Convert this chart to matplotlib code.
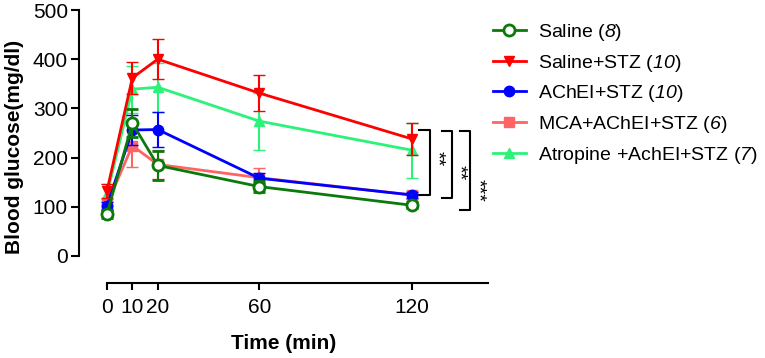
import matplotlib.pyplot as plt
from matplotlib.lines import Line2D

plt.rcParams['font.family'] = ['Liberation Sans', 'DejaVu Sans']
plt.rcParams['mathtext.fontset'] = 'custom'
plt.rcParams['mathtext.rm'] = 'Liberation Sans'
# digits inside \mathit fall back to roman, so use the sf slot for italic numbers
plt.rcParams['mathtext.sf'] = 'Liberation Sans:style=italic'

time = [0, 10, 20, 60, 120]

saline = [85, 270, 184, 141, 103]
saline_err = [8, 29, 30, 12, 6]
saline_stz = [132, 362, 400, 331, 238]
saline_stz_err = [15, 32, 41, 36, 32]
achei_stz = [102, 256, 257, 158, 124]
achei_stz_err = [8, 30, 36, 10, 6]
mca_achei_stz = [105, 224, 186, 159, 124]
mca_achei_stz_err = [10, 43, 30, 20, 8]
atropine_achei_stz = [125, 339, 343, 274, 215]
atropine_achei_stz_err = [22, 48, 50, 58, 56]

labels = ['Saline ($\\mathsf{8}$)', 'Saline+STZ ($\\mathsf{10}$)', 'AChEI+STZ ($\\mathsf{10}$)',
          'MCA+AChEI+STZ ($\\mathsf{6}$)', 'Atropine +AchEI+STZ ($\\mathsf{7}$)']

fig = plt.figure(figsize=(7.65, 3.58), dpi=100)
ax = fig.add_axes([79 / 765, 1 - 283 / 358, (488 - 79) / 765, (283 - 10) / 358])

# (values, errors, colour, marker, hollow, legend position, zorder)
series = [
    (atropine_achei_stz, atropine_achei_stz_err, '#2cf27a', '^', False, 4, 1),
    (mca_achei_stz, mca_achei_stz_err, '#ff6464', 's', False, 3, 2),
    (achei_stz, achei_stz_err, '#0000ff', 'o', False, 2, 3),
    (saline_stz, saline_stz_err, '#ff0000', 'v', False, 1, 4),
    (saline, saline_err, '#0b7a0b', 'o', True, 0, 5),
]

handles = [None] * 5
for y, e, c, m, hollow, idx, z in series:
    style = dict(color=c, marker=m, markersize=7.5 if not hollow else 8,
                 markeredgewidth=2 if hollow else 1,
                 markerfacecolor='white' if hollow else c, lw=2)
    ax.errorbar(time, y, yerr=e, elinewidth=1.5, capsize=4, capthick=1.5, zorder=z, **style)
    handles[idx] = Line2D([], [], **style)

# significance brackets
brackets = [(123, 127, 124, 256, 129.8, 197, '**'),
            (132, 136, 118, 254, 138.3, 169, '**'),
            (139, 143, 93, 254, 145.8, 134, '***')]
for x0, x1, yb, yt, tx, ty, s in brackets:
    ax.plot([x0, x1, x1, x0], [yt, yt, yb, yb], color='black', lw=1.5, clip_on=False)
    ax.text(tx, ty, s, rotation=270, ha='center', va='center', fontsize=14, clip_on=False)

ax.set_xlim(-11, 150)
ax.set_ylim(-55, 500)
ax.spines['top'].set_visible(False)
ax.spines['right'].set_visible(False)
ax.spines['left'].set_bounds(0, 500)
ax.spines['bottom'].set_bounds(0, 150)
ax.spines['left'].set_linewidth(1.5)
ax.spines['bottom'].set_linewidth(1.5)
ax.set_xticks(time)
ax.set_yticks([0, 100, 200, 300, 400, 500])
ax.tick_params(axis='both', labelsize=15, width=1.5)
ax.tick_params(axis='y', length=6, pad=2)
ax.tick_params(axis='x', length=5, pad=6)
ax.set_xlabel('Time (min)', fontsize=15, fontweight='bold', labelpad=12)
ax.set_ylabel('Blood glucose(mg/dl)', fontsize=15, fontweight='bold', labelpad=6)

fig.legend(handles, labels, loc='upper left', bbox_to_anchor=(485 / 765, 1 - 14 / 358),
           frameon=False, fontsize=14, handlelength=1.7, labelspacing=0.5, handletextpad=0.6,
           borderaxespad=0)

fig.savefig('out.png', dpi=100)
